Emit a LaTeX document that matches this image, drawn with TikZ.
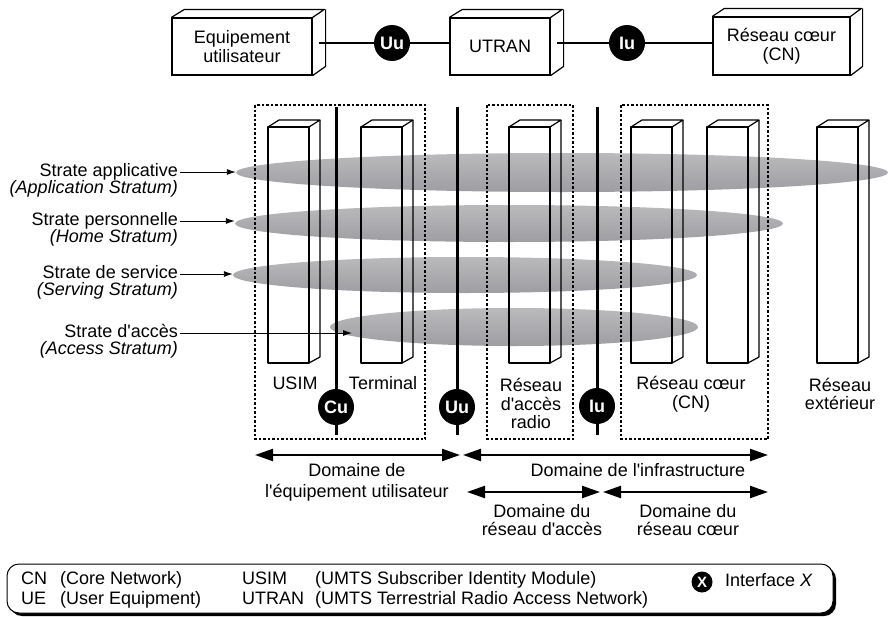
\documentclass[tikz,border=0pt]{standalone}
\usepackage{fontspec}
\setmainfont{Liberation Sans}
\usetikzlibrary{arrows.meta,shapes.geometric,calc}
\definecolor{strlight}{RGB}{186,186,189}
\definecolor{strdark}{RGB}{158,158,162}
\newcommand\ap{\textquotesingle}
\newcommand\pillar[1]{%
  \draw[colline] (#1,127) rectangle ++(41,236);
  \draw[colline] (#1,127) -- ++(11,-7) -- ++(41,0) -- ++(-11,7);
  \draw[colline] (#1+52,120) -- ++(0,237) -- ++(-11,6);
}
\begin{document}
\begin{tikzpicture}[x=1pt,y=-1pt,
  txt/.style={inner sep=0pt, font=\fontsize{18}{18}\selectfont, text height=13pt, text depth=4pt},
  itxt/.style={txt, font=\fontsize{18}{18}\selectfont\itshape},
  mtxt/.style={inner sep=0pt, align=center, font=\fontsize{18}{18.5}\selectfont},
  tbox/.style={draw, line width=1.2pt, fill=white, inner sep=0pt, align=center, font=\fontsize{18}{19}\selectfont},
  boxline/.style={line width=1.2pt, line join=round},
  colline/.style={line width=1.2pt, line join=round},
  stratum/.style={ellipse, inner sep=0pt, top color=strlight, bottom color=strdark, draw=none},
  dashbox/.style={line width=1.2pt, dash pattern=on 2.5pt off 2pt},
  ifline/.style={line width=3pt},
  conline/.style={line width=2.5pt},
  ifc/.style={circle, fill=black, text=white, inner sep=0pt, minimum size=36pt, font=\fontsize{18}{18}\selectfont\bfseries},
  thinarrow/.style={line width=0.9pt, -{Latex[length=9pt,width=6pt]}},
  domarrow/.style={line width=2.2pt, {Triangle[length=18pt,width=12pt]}-{Triangle[length=18pt,width=12pt]}},
]
\useasboundingbox (0,0) rectangle (889,616);

% ---------- top row ----------
\node[tbox, minimum width=140pt, minimum height=57pt] (ue) at (242,46.5) {Equipement\\utilisateur};
\draw[boxline] (ue.north west) -- ++(13,-8) -- ++(140,0) -- (ue.north east);
\draw[boxline] ($(ue.north east)+(13,-8)$) -- ++(0,57) -- (ue.south east);
\node[tbox, minimum width=100pt, minimum height=57pt] (utran) at (500,46.5) {UTRAN};
\draw[boxline] (utran.north west) -- ++(13,-8) -- ++(100,0) -- (utran.north east);
\draw[boxline] ($(utran.north east)+(13,-8)$) -- ++(0,57) -- (utran.south east);
\node[tbox, minimum width=137pt, minimum height=58pt] (cn) at (781.5,46) {Réseau cœur\\(CN)};
\draw[boxline] (cn.north west) -- ++(12,-8) -- ++(137,0) -- (cn.north east);
\draw[boxline] ($(cn.north east)+(12,-8)$) -- ++(0,58) -- (cn.south east);

\coordinate (ueside) at (318.5,43);
\coordinate (utside) at (556.5,43);
\node[ifc] (uutop) at (392,43) {Uu};
\node[ifc] (iutop) at (627,43) {Iu};
\draw[conline] (ueside) -- (uutop.west);
\draw[conline] (uutop.east) -- (utran.west |- uutop);
\draw[conline] (utside) -- (iutop.west);
\draw[conline] (iutop.east) -- (cn.west |- iutop);

% ---------- strata ----------
\node[stratum, minimum width=652pt, minimum height=39pt] (e1) at (562,172.5) {};
\node[stratum, minimum width=548pt, minimum height=37pt] (e2) at (509,223.5) {};
\node[stratum, minimum width=464pt, minimum height=36pt] (e3) at (465,275) {};
\node[stratum, minimum width=368pt, minimum height=38pt] (e4) at (514,327) {};

% ---------- columns ----------
\pillar{268}
\pillar{361}
\pillar{509}
\pillar{631}
\pillar{707}
\pillar{817}

% ---------- dashed domains ----------
\draw[dashbox] (255,105) rectangle (425,439);
\draw[dashbox] (487,105) rectangle (573,439);
\draw[dashbox] (621,105) rectangle (768,439);

% ---------- interfaces ----------
\coordinate (cuA) at (336,107); \coordinate (cuB) at (336,435);
\coordinate (uuA) at (457,107); \coordinate (uuB) at (457,435);
\coordinate (iuA) at (597,107); \coordinate (iuB) at (597,435);
\draw[ifline] (cuA) -- (cuB);
\draw[ifline] (uuA) -- (uuB);
\draw[ifline] (iuA) -- (iuB);
\node[ifc] (cu) at (336,407) {Cu};
\node[ifc] (uu) at (457,407) {Uu};
\node[ifc] (iu) at (597,406) {Iu};

% ---------- strata labels ----------
\node[txt, anchor=east] (s1) at (178,172) {Strate applicative};
\node[itxt, anchor=east] (s1b) at (178,189) {(Application Stratum)};
\node[txt, anchor=east] (s2) at (178,221) {Strate personnelle};
\node[itxt, anchor=east] (s2b) at (178,238) {(Home Stratum)};
\node[txt, anchor=east] (s3) at (178,274) {Strate de service};
\node[itxt, anchor=east] (s3b) at (178,291) {(Serving Stratum)};
\node[txt, anchor=east] (s4) at (178,333) {Strate d\ap accès};
\node[itxt, anchor=east] (s4b) at (178,350) {(Access Stratum)};
\coordinate (s4end) at (352,333);
\draw[thinarrow] ([xshift=2pt]s1.east) -- (s1.east -| e1.west);
\draw[thinarrow] ([xshift=2pt]s2.east) -- (s2.east -| e2.west);
\draw[thinarrow] ([xshift=2pt]s3.east) -- (s3.east -| e3.west);
\draw[thinarrow] ([xshift=2pt]s4.east) -- (s4end);

% ---------- column labels ----------
\node[txt] (lusim) at (295,385) {USIM};
\node[txt] (lterm) at (383,385) {Terminal};
\node[mtxt] (lradio) at (531,403.5) {Réseau\\d\ap accès\\radio};
\node[mtxt] (lcn) at (691,394) {Réseau cœur\\(CN)};
\node[mtxt] (lext) at (840,394) {Réseau\\extérieur};

% ---------- domain arrows ----------
\coordinate (d1a) at (255,455); \coordinate (d1b) at (460,455);
\coordinate (d2a) at (463,455); \coordinate (d2b) at (768,455);
\coordinate (d3a) at (467,492); \coordinate (d3b) at (600,492);
\coordinate (d4a) at (603,492); \coordinate (d4b) at (768,492);
\draw[domarrow] (d1a) -- (d1b);
\draw[domarrow] (d2a) -- (d2b);
\draw[domarrow] (d3a) -- (d3b);
\draw[domarrow] (d4a) -- (d4b);
\node[txt] (t1) at (357,472) {Domaine de};
\node[txt] (t1b) at (357,493) {l\ap équipement utilisateur};
\node[txt] (t2) at (638,472) {Domaine de l\ap infrastructure};
\node[txt] (t3) at (542,513) {Domaine du};
\node[txt] (t3b) at (542,531) {réseau d\ap accès};
\node[txt] (t4) at (688,513) {Domaine du};
\node[txt] (t4b) at (688,531) {réseau cœur};

% ---------- legend ----------
\node[draw=none, fill=black, rounded corners=12pt, minimum width=826pt, minimum height=49pt] (legsh) at (423,591.5) {};
\node[draw, line width=1pt, fill=white, rounded corners=12pt, minimum width=826pt, minimum height=49pt] (leg) at (420,588.5) {};
\node[txt, anchor=west] (lcn1) at (21,580) {CN};
\node[txt, anchor=west] (lcn2) at (60,580) {(Core Network)};
\node[txt, anchor=west] (lue1) at (21,600) {UE};
\node[txt, anchor=west] (lue2) at (60,600) {(User Equipment)};
\node[txt, anchor=west] (lus1) at (242,580) {USIM};
\node[txt, anchor=west] (lus2) at (315,580) {(UMTS Subscriber Identity Module)};
\node[txt, anchor=west] (lut1) at (242,600) {UTRAN};
\node[txt, anchor=west] (lut2) at (315,600) {(UMTS Terrestrial Radio Access Network)};
\node[circle, fill=black, text=white, inner sep=0pt, minimum size=21pt, font=\fontsize{15}{15}\selectfont\bfseries] (lx) at (702,582) {X};
\node[txt, anchor=west] (lxt) at (725,582) {Interface \textit{X}};
\end{tikzpicture}
\end{document}
